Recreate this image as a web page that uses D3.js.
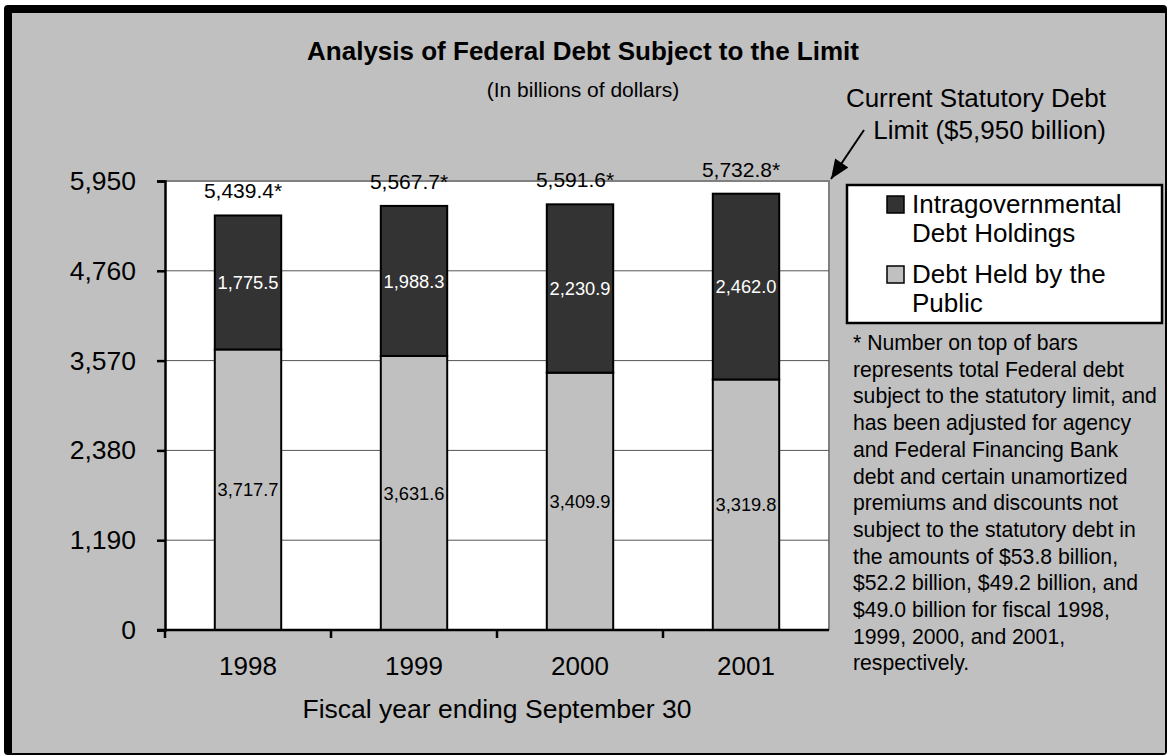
<!DOCTYPE html>
<html>
<head>
<meta charset="utf-8">
<script src="https://cdn.jsdelivr.net/npm/d3@7"></script>
<style>
  html, body { margin: 0; padding: 0; background: #fff; }
  svg { display: block; font-family: "Liberation Sans", Arial, sans-serif; }
</style>
</head>
<body>
<svg id="chart" width="1167" height="755"></svg>
<script>
// ---- data ----
const years = ["1998", "1999", "2000", "2001"];
const publicDebt = [3717.7, 3631.6, 3409.9, 3319.8];
const intragovDebt = [1775.5, 1988.3, 2230.9, 2462.0];
const totalLabels = ["5,439.4*", "5,567.7*", "5,591.6*", "5,732.8*"];
const yTicks = [0, 1190, 2380, 3570, 4760, 5950];
const debtLimit = 5950;
const seriesNames = ["Intragovernmental Debt Holdings", "Debt Held by the Public"];
const footnoteLines = [
  "* Number on top of bars",
  "represents total Federal debt",
  "subject to the statutory limit, and",
  "has been adjusted for agency",
  "and Federal Financing Bank",
  "debt and certain unamortized",
  "premiums and discounts not",
  "subject to the statutory debt in",
  "the amounts of $53.8 billion,",
  "$52.2 billion, $49.2 billion, and",
  "$49.0 billion for fiscal 1998,",
  "1999, 2000, and 2001,",
  "respectively."
];

const W = 1167, H = 755;
const svg = d3.select("#chart");
const GREY = "#c0c0c0", DARK = "#333333";

// background + frame
svg.append("rect").attr("x", 0).attr("y", 0).attr("width", W).attr("height", H).attr("fill", "#fff");
svg.append("rect").attr("x", 4).attr("y", 5).attr("width", W - 4).attr("height", H - 5).attr("rx", 4).attr("fill", "#000");
svg.append("rect").attr("x", 12).attr("y", 13).attr("width", W - 14).attr("height", H - 15).attr("fill", GREY);

// plot geometry
const m = { left: 165, right: 829, top: 181, bottom: 630 };
const x = d3.scaleBand().domain(years).range([m.left, m.right]).paddingInner(0.6).paddingOuter(0.3);
const y = d3.scaleLinear().domain([0, debtLimit]).range([m.bottom, m.top]);

// plot area
svg.append("rect").attr("x", m.left).attr("y", m.top).attr("width", m.right - m.left).attr("height", m.bottom - m.top)
  .attr("fill", "#fff");
svg.append("path").attr("d", `M${m.left},${m.top}H${m.right}V${m.bottom}`).attr("fill", "none")
  .attr("stroke", "#808080").attr("stroke-width", 2);

// gridlines
svg.append("g").selectAll("line").data(yTicks.filter(t => t > 0 && t < debtLimit)).join("line")
  .attr("x1", m.left).attr("x2", m.right).attr("y1", d => y(d)).attr("y2", d => y(d))
  .attr("stroke", "#555").attr("stroke-width", 1);

// stacked data
const rows = years.map((yr, i) => ({ year: yr, pub: publicDebt[i], intra: intragovDebt[i], label: totalLabels[i] }));
const stack = d3.stack().keys(["pub", "intra"])(rows);
const fills = { pub: GREY, intra: DARK };
const textFill = { pub: "#000", intra: "#fff" };

const gBars = svg.append("g");
stack.forEach(layer => {
  gBars.append("g").selectAll("rect").data(layer).join("rect")
    .attr("x", d => x(d.data.year)).attr("width", x.bandwidth())
    .attr("y", d => y(d[1])).attr("height", d => y(d[0]) - y(d[1]))
    .attr("fill", fills[layer.key]).attr("stroke", "#000").attr("stroke-width", 2);
  gBars.append("g").selectAll("text").data(layer).join("text")
    .attr("x", d => x(d.data.year) + x.bandwidth() / 2)
    .attr("y", d => (y(d[0]) + y(d[1])) / 2)
    .attr("dy", "0.36em").attr("text-anchor", "middle")
    .attr("font-size", 18.3).attr("fill", textFill[layer.key])
    .text(d => d3.format(",.1f")(d.data[layer.key]));
});

// total labels
svg.append("g").selectAll("text").data(stack[1]).join("text")
  .attr("x", d => x(d.data.year) + x.bandwidth() / 2 - 5)
  .attr("y", d => y(d[1]) - 17)
  .attr("text-anchor", "middle").attr("font-size", 21).attr("fill", "#000")
  .text(d => d.data.label);

// y axis
const yAxis = svg.append("g").attr("transform", `translate(${m.left},0)`)
  .call(d3.axisLeft(y).tickValues(yTicks).tickFormat(d3.format(",")).tickSize(8).tickPadding(21));
yAxis.select(".domain").attr("stroke", "#000").attr("stroke-width", 2.5);
yAxis.selectAll(".tick line").attr("stroke", "#000").attr("stroke-width", 2.5);
yAxis.selectAll(".tick text").attr("font-size", 26.5).attr("font-family", "Liberation Sans, Arial, sans-serif").attr("fill", "#000");

// x axis (ticks between categories)
const xAxisG = svg.append("g").attr("transform", `translate(0,${m.bottom})`);
xAxisG.append("line").attr("x1", m.left - 8).attr("x2", m.right).attr("y1", 0).attr("y2", 0)
  .attr("stroke", "#000").attr("stroke-width", 2.5);
const boundaries = years.map(yr => x(yr) - x.step() * x.paddingOuter());
xAxisG.selectAll("line.tk").data(boundaries).join("line").attr("class", "tk")
  .attr("x1", d => d).attr("x2", d => d).attr("y1", 0).attr("y2", 8)
  .attr("stroke", "#000").attr("stroke-width", 2.5);
xAxisG.selectAll("text").data(years).join("text")
  .attr("x", d => x(d) + x.bandwidth() / 2).attr("y", 45)
  .attr("text-anchor", "middle").attr("font-size", 26).text(d => d);

// axis title
svg.append("text").attr("x", (m.left + m.right) / 2).attr("y", 718).attr("text-anchor", "middle")
  .attr("font-size", 26.5).text("Fiscal year ending September 30");

// title
svg.append("text").attr("x", 583).attr("y", 60).attr("text-anchor", "middle")
  .attr("font-size", 26).attr("font-weight", "bold").text("Analysis of Federal Debt Subject to the Limit");
svg.append("text").attr("x", 583).attr("y", 97).attr("text-anchor", "middle")
  .attr("font-size", 21).text("(In billions of dollars)");

// statutory limit annotation
svg.append("text").attr("x", 1106).attr("y", 107).attr("text-anchor", "end").attr("font-size", 26).text("Current Statutory Debt");
svg.append("text").attr("x", 1106).attr("y", 139).attr("text-anchor", "end").attr("font-size", 26).text("Limit ($5,950 billion)");
svg.append("defs").append("marker").attr("id", "arr").attr("viewBox", "0 0 12 10")
  .attr("refX", 12).attr("refY", 5).attr("markerUnits", "userSpaceOnUse").attr("orient", "auto")
  .attr("markerWidth", 20).attr("markerHeight", 16)
  .append("path").attr("d", "M0,0L12,5L0,10Z").attr("fill", "#000");
svg.append("line").attr("x1", 864).attr("y1", 130).attr("x2", m.right + 2).attr("y2", y(debtLimit) - 2)
  .attr("stroke", "#000").attr("stroke-width", 2).attr("marker-end", "url(#arr)");

// legend
const lg = svg.append("g");
lg.append("rect").attr("x", 847).attr("y", 185).attr("width", 315).attr("height", 138)
  .attr("fill", "#fff").attr("stroke", "#000").attr("stroke-width", 2.5);
const legendItems = [
  { name: seriesNames[0], fill: DARK, lines: ["Intragovernmental", "Debt Holdings"] },
  { name: seriesNames[1], fill: GREY, lines: ["Debt Held by the", "Public"] }
];
legendItems.forEach((it, i) => {
  const top = 196 + i * 70;
  lg.append("rect").attr("x", 887).attr("y", top).attr("width", 17).attr("height", 17)
    .attr("fill", it.fill).attr("stroke", "#000").attr("stroke-width", 1.5);
  it.lines.forEach((ln, j) => {
    lg.append("text").attr("x", 912).attr("y", top + 17 + j * 29).attr("font-size", 26).text(ln);
  });
});

// footnote
svg.append("g").selectAll("text").data(footnoteLines).join("text")
  .attr("x", 853).attr("y", (d, i) => 350 + i * 26.7).attr("font-size", 21.2).text(d => d);
</script>
</body>
</html>
